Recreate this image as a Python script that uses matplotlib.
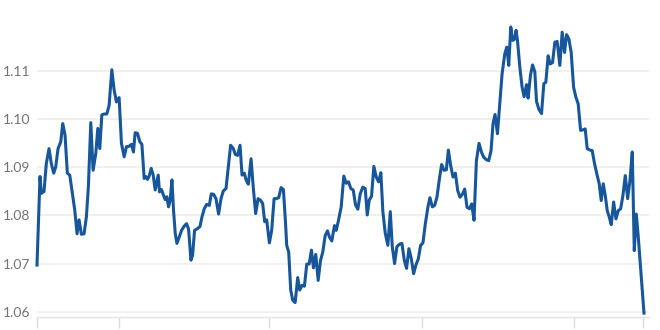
import matplotlib
matplotlib.use("Agg")
import matplotlib.pyplot as plt

# time axis (arbitrary day-like units) and rate values
t = [0, 3, 4.3, 7, 9.3, 12, 14.3, 16.7, 18.7, 21, 23.7, 25.7, 28, 30.3, 32.7, 35.3, 37.7, 40, 42,
     44.3, 47, 49.3, 51.3, 53.7, 56, 58.7, 60.7, 62.7, 64.7, 67, 69.7, 72, 74.7, 77, 79.3, 82, 84.3,
     87, 89.3, 92, 94.3, 96.3,
     98, 100.3, 102.7, 104.7, 107, 108.7, 110.3, 112, 114, 116, 118, 119.7, 121, 122.3, 124.3, 126.3,
     128, 129.7, 131.3, 133, 134.7, 136.3, 138, 139.7, 142, 144.3, 147, 149.3, 151.3, 153.7, 155.3,
     157.3, 159.7, 162.7, 164.7, 167, 169.3, 172, 174, 176.3, 178.7, 181.3, 183.7, 186, 188.7, 191.3,
     193.3, 196,
     198, 200.3, 202.7, 204.7, 207, 208.7, 211, 213.7, 216, 218.3, 220.7, 223, 225.3, 227.3, 229.3,
     232, 234.3, 236.7, 239, 241.3, 243.7, 246, 248, 249.3, 251.3, 253.3, 255.3, 257.7, 260.3, 262.3,
     264.7, 267, 269.3, 271.7, 274, 276, 278.3, 280.7, 283, 285.3, 287.7, 290, 292, 294.3, 297,
     298.7, 301, 303.7, 306.3, 308.7, 311, 313.3, 315.7, 318, 320.3, 322.7, 325.3, 327.7, 329.7,
     331.7, 334, 336.3, 338.7, 341, 343.3, 345.3, 347.7, 350.3, 352.7, 354.7, 357, 359.3, 361.7,
     364.3, 366.7, 369, 371.3, 373.7, 376, 378.3, 380.7, 383, 385.3, 387.7, 390.3, 392.3, 394.7, 397,
     399.3, 402, 404, 406.3, 408.7, 410.7, 413, 415.3, 417.7, 420, 422.3, 424.7, 427, 429.3, 431.7,
     434, 436.3, 438.7, 441.3, 443.7, 446, 448.7, 451, 453.3, 455.3, 457.3, 459.7, 462, 464.3, 467,
     469, 471, 473, 475, 477, 478.3, 479.7, 482, 484.3, 486.3, 488.7, 490.3, 492.7, 494.7, 497,
     498.7, 501, 503.7, 506, 508, 510.3, 512.3, 514.7, 517, 519.3, 522, 524.3, 526.7, 528.7, 531,
     533.3, 535.7, 538, 540.3, 542.7, 545, 547.3, 549.3, 552, 554.3, 556.7, 559.3, 561.3, 563.3,
     565.3, 567.3, 569.3, 571.3, 573.3, 575.7, 578, 580.3, 582.7, 585, 587.3, 589.7, 592, 594.3,
     596.3, 598.3, 600.3, 603, 606]

rate = [1.0697, 1.0881, 1.0846, 1.0850, 1.0908, 1.0939, 1.0908, 1.0888, 1.0901, 1.0939, 1.0953,
        1.0991, 1.0967, 1.0888, 1.0884, 1.0846, 1.0811, 1.0762, 1.0791, 1.0761, 1.0762, 1.0797,
        1.0860, 1.0993, 1.0894, 1.0929, 1.0981, 1.0939, 1.1009, 1.1011, 1.1011, 1.1029, 1.1103,
        1.1061, 1.1036, 1.1045, 1.0950, 1.0922, 1.0943, 1.0944, 1.0948, 1.0932,
        1.0972, 1.0971, 1.0953, 1.0948, 1.0877, 1.0881, 1.0875, 1.0882, 1.0898, 1.0884, 1.0853,
        1.0870, 1.0884, 1.0849, 1.0854, 1.0842, 1.0833, 1.0839, 1.0818, 1.0832, 1.0874, 1.0811,
        1.0763, 1.0742, 1.0755, 1.0769, 1.0778, 1.0783, 1.0772, 1.0707, 1.0717, 1.0769, 1.0772,
        1.0777, 1.0797, 1.0814, 1.0823, 1.0821, 1.0845, 1.0844, 1.0835, 1.0803, 1.0835, 1.0851,
        1.0856, 1.0908, 1.0946, 1.0939,
        1.0927, 1.0925, 1.0946, 1.0884, 1.0888, 1.0874, 1.0865, 1.0918, 1.0856, 1.0804, 1.0835,
        1.0832, 1.0825, 1.0787, 1.0791, 1.0743, 1.0769, 1.0835, 1.0835, 1.0837, 1.0858, 1.0854,
        1.0789, 1.0738, 1.0724, 1.0645, 1.0624, 1.0619, 1.0671, 1.0645, 1.0655, 1.0653, 1.0699,
        1.0699, 1.0728, 1.0691, 1.0719, 1.0665, 1.0706, 1.0724, 1.0758, 1.0768, 1.0755, 1.0747,
        1.0779,
        1.0769, 1.0790, 1.0818, 1.0882, 1.0867, 1.0870, 1.0856, 1.0853, 1.0822, 1.0813, 1.0845,
        1.0859, 1.0856, 1.0801, 1.0832, 1.0840, 1.0902, 1.0880, 1.0870, 1.0889, 1.0808, 1.0763,
        1.0738, 1.0808, 1.0735, 1.0700, 1.0735, 1.0740, 1.0742, 1.0707, 1.0690, 1.0731, 1.0710,
        1.0679, 1.0697, 1.0710, 1.0738, 1.0743, 1.0783, 1.0818, 1.0837, 1.0818, 1.0821,
        1.0838, 1.0880, 1.0906, 1.0894, 1.0895, 1.0936, 1.0904, 1.0880, 1.0888, 1.0852, 1.0838,
        1.0844, 1.0855, 1.0817, 1.0814, 1.0824, 1.0790, 1.0914, 1.0950, 1.0932, 1.0921, 1.0916,
        1.0914, 1.0935, 1.0991, 1.1010, 1.0970, 1.1032, 1.1094, 1.1136, 1.1150, 1.1112, 1.1192,
        1.1164, 1.1167, 1.1185, 1.1164, 1.1109, 1.1067, 1.1047, 1.1072, 1.1044, 1.1092, 1.1113,
        1.1099,
        1.1037, 1.1021, 1.1012, 1.1074, 1.1077, 1.1132, 1.1115, 1.1118, 1.1160, 1.1162, 1.1112,
        1.1181, 1.1139, 1.1176, 1.1167, 1.1139, 1.1067, 1.1046, 1.1032, 1.0977, 1.0978, 1.0980,
        1.0939, 1.0936, 1.0935, 1.0907, 1.0883, 1.0866, 1.0831, 1.0866, 1.0842, 1.0810, 1.0797,
        1.0781, 1.0828, 1.0793, 1.0810, 1.0814, 1.0842, 1.0883, 1.0835, 1.0873, 1.0932, 1.0727,
        1.0803, 1.0755, 1.0679, 1.0597]

y_ticks = [1.06, 1.07, 1.08, 1.09, 1.10, 1.11]
y_labels = ["1.06", "1.07", "1.08", "1.09", "1.10", "1.11"]
x_ticks = [0, 82, 232, 384, 536, 605]

plt.rcParams['font.family'] = ['Lato', 'DejaVu Sans']

fig = plt.figure(figsize=(6.6, 3.3), dpi=100)
ax = fig.add_axes([37 / 660, 13.5 / 330, 612 / 660, 316.5 / 330])

ax.plot(t, rate, color="#17569b", lw=2.2, solid_joinstyle="round", clip_on=False, zorder=3)

ax.set_xlim(0, 611)
ax.set_ylim(1.059, 1.1248)

ax.set_yticks(y_ticks)
ax.set_yticklabels(y_labels)
ax.set_xticks(x_ticks)
ax.set_xticklabels([])

for v in y_ticks:
    ax.axhline(v, color="#f1eeeb", lw=1.3, zorder=1)

for s in ["top", "right", "left"]:
    ax.spines[s].set_visible(False)
ax.spines["bottom"].set_color("#e4e4e4")
ax.spines["bottom"].set_linewidth(1.0)

ax.tick_params(axis="y", length=0, pad=5, labelsize=10, labelcolor="#737373")
ax.tick_params(axis="x", length=8, width=1.0, color="#dcdcdc", direction="out")

fig.savefig("out.png", dpi=100)
